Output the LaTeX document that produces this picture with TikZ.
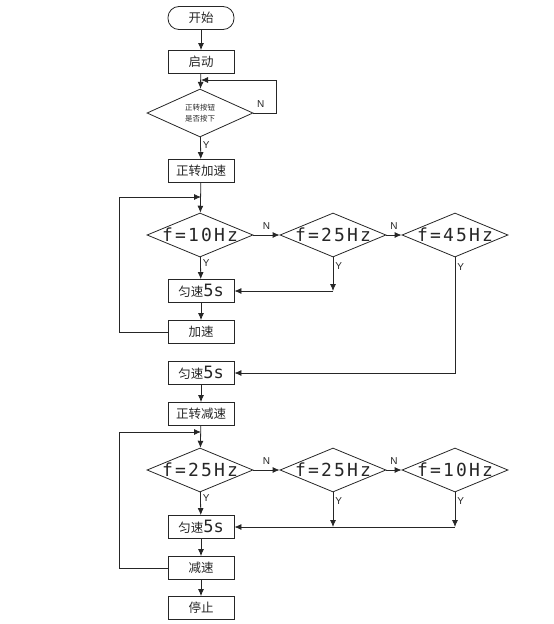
\documentclass[tikz,border=0pt]{standalone}
\usepackage{fontspec}
\setmainfont{Liberation Sans}
\newfontfamily\cjk{Noto Sans CJK SC}
\newfontfamily\freq[LetterSpace=12]{DejaVu Sans Mono}
\newfontfamily\secs{DejaVu Sans Mono}
\usetikzlibrary{shapes.geometric,arrows.meta}

\begin{document}
\begin{tikzpicture}[x=1pt, y=-1pt,
            color=black!85, line width=0.8pt,
            >={Latex[length=7pt,width=6pt]},
            box/.style={draw, rectangle, minimum width=66pt, minimum height=23pt, inner sep=0pt, font=\cjk\fontsize{12.5}{14}\selectfont},
            term/.style={box, rounded corners=11pt},
            test/.style={draw, diamond, minimum width=106pt, minimum height=44pt, inner sep=0pt, font=\freq\fontsize{18}{20}\selectfont},
            ylab/.style={right, inner sep=2pt, font=\fontsize{10}{12}\selectfont},
            nlab/.style={above, inner sep=2pt, yshift=3pt, font=\fontsize{10}{12}\selectfont}
        ]
            \useasboundingbox (0,0) rectangle (554,624);

            % main column
            \node[term] (begin) at (201,18) {开始};
            \node[box] (boot) at (201,62) {启动};
            \node[test, font=\cjk\fontsize{7.5}{11}\selectfont, align=center] (press) at (200,113) {正转按钮\\是否按下};
            \node[box] (fwd) at (201,171) {正转加速};

            \node[test] (fa) at (200,235) {\makebox[0pt]{f=10Hz}};
            \node[test] (fb) at (333,235) {\makebox[0pt]{f=25Hz}};
            \node[test] (fc) at (455,235) {\makebox[0pt]{f=45Hz}};
            \node[box] (holda) at (201,291) {匀速{\secs\fontsize{17}{18}\selectfont 5s}};
            \node[box] (acc) at (201,332) {加速};
            \node[box] (holdb) at (201,373) {匀速{\secs\fontsize{17}{18}\selectfont 5s}};
            \node[box] (slowfwd) at (201,414) {正转减速};

            \node[test] (fd) at (200,470) {\makebox[0pt]{f=25Hz}};
            \node[test] (fe) at (333,470) {\makebox[0pt]{f=25Hz}};
            \node[test] (ff) at (455,470) {\makebox[0pt]{f=10Hz}};
            \node[box] (holdc) at (201,527) {匀速{\secs\fontsize{17}{18}\selectfont 5s}};
            \node[box] (dec) at (201,568) {减速};
            \node[box] (halt) at (201,608) {停止};

            \coordinate (ja) at (201,80);
            \coordinate (jb) at (201,197);
            \coordinate (jc) at (201,432);
            \coordinate (ma) at (333,291);
            \coordinate (mb) at (333,527);
            \coordinate (mc) at (455,527);

            % start part
            \draw[->] (begin) -- (boot);
            \draw[->] (boot) -- (press);
            \draw[->] (press.east) -- (276,113) node[nlab, pos=0.5, above right, xshift=-10pt] {N} |- (ja);
            \draw[->] (press) -- (fwd) node[ylab, pos=0.35] {Y};

            % speeding up
            \draw[->] (fwd) -- (fa);
            \draw[->] (fa) -- (fb) node[nlab, midway] {N};
            \draw[->] (fb) -- (fc) node[nlab, midway] {N};
            \draw[->] (fa) -- (holda) node[ylab, pos=0.25] {Y};
            \draw[->] (fb.south) -- (ma) node[ylab, pos=0.25] {Y};
            \draw[->] (ma) -- (holda.east);
            \draw[->] (holda) -- (acc);
            \draw[->] (acc.west) -- ++(-48,0) |- (jb);
            \draw[->] (fc.south) |- (holdb.east) node[ylab, pos=0.04] {Y};

            % slowing down
            \draw[->] (holdb) -- (slowfwd);
            \draw[->] (slowfwd) -- (fd);
            \draw[->] (fd) -- (fe) node[nlab, midway] {N};
            \draw[->] (fe) -- (ff) node[nlab, midway] {N};
            \draw[->] (fd) -- (holdc) node[ylab, pos=0.25] {Y};
            \draw[->] (fe.south) -- (mb) node[ylab, pos=0.25] {Y};
            \draw[->] (ff.south) -- (mc) node[ylab, pos=0.25] {Y};
            \draw[->] (mc) -- (holdc.east);
            \draw[->] (holdc) -- (dec);
            \draw[->] (dec.west) -- ++(-48,0) |- (jc);
            \draw[->] (dec) -- (halt);
        \end{tikzpicture}
\end{document}
